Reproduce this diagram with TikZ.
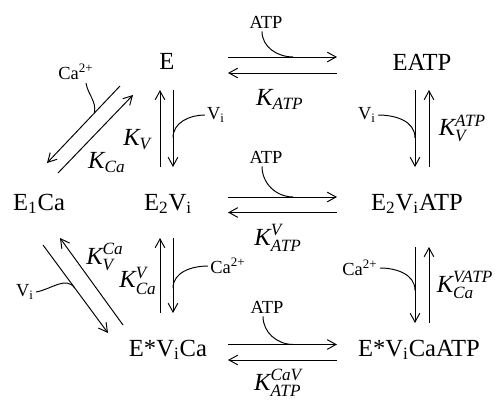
\documentclass[tikz,border=0pt]{standalone}
\usepackage{amsmath}
\usepackage{fontspec}
\setmainfont{Liberation Serif}
\usetikzlibrary{arrows.meta,calc}
\newcommand{\Kc}[1]{$\textit{K}_{\textit{#1}}$}
\newcommand{\Kcc}[2]{$\textit{K}_{\textit{#1}}^{\textit{#2}}$}
\tikzset{
  sp/.style={font=\fontsize{14}{16}\selectfont,inner sep=1pt,anchor=base},
  cof/.style={font=\fontsize{10.5}{12}\selectfont,inner sep=1pt},
  kk/.style={font=\fontsize{14}{16}\selectfont,inner sep=1pt},
  rx/.style={-{Straight Barb[length=5pt,width=5.5pt]}},
}

\begin{document}
\begin{tikzpicture}[x=0.02cm,y=-0.02cm,line width=0.55pt]
\useasboundingbox (0,0) rectangle (495,400);
\node[sp] (e) at (167,69) {E};
\node[sp] (eatp) at (422,70) {EATP};
\node[sp] (eca) at (39,210) {E\textsubscript{1}Ca};
\node[sp] (ev) at (168,210) {E\textsubscript{2}V\textsubscript{i}};
\node[sp] (evatp) at (417,210) {E\textsubscript{2}V\textsubscript{i}ATP};
\node[sp] (evca) at (168,356) {E*V\textsubscript{i}Ca};
\node[sp] (evcaatp) at (419,356) {E*V\textsubscript{i}CaATP};

% ATP binding
\draw[rx] ($(e.base)+(61,-12)$) -- coordinate[pos=0.6] (j1) ($(eatp.base)+(-85,-13)$);
\draw[rx] ($(eatp.base)+(-85,3)$) -- node[kk,yshift=-15pt,xshift=-1.5pt] (k1) {\Kc{ATP}} ($(e.base)+(61,4)$);
\node[cof] (atp1) at (266,22) {ATP};
\draw ($(atp1.south)+(-4,1)$) to[out=-90,in=180] (j1);

\draw[rx] ($(ev.base)+(60,-13)$) -- coordinate[pos=0.6] (j2) ($(evatp.base)+(-80,-13)$);
\draw[rx] ($(evatp.base)+(-80,2.5)$) -- node[kk,yshift=-14.5pt,xshift=-2.5pt] (k2) {\Kcc{ATP}{V}} ($(ev.base)+(60,2.5)$);
\node[cof] (atp2) at (266,157) {ATP};
\draw ($(atp2.south)+(-4,1)$) to[out=-90,in=180] (j2);

\draw[rx] ($(evca.base)+(60,-11.5)$) -- coordinate[pos=0.6] (j3) ($(evcaatp.base)+(-82,-11.5)$);
\draw[rx] ($(evcaatp.base)+(-82,4)$) -- node[kk,yshift=-13pt,xshift=-2.5pt] (k3) {\Kcc{ATP}{CaV}} ($(evca.base)+(60,4)$);
\node[cof] (atp3) at (267,307) {ATP};
\draw ($(atp3.south)+(-4,1)$) to[out=-90,in=180] (j3);

% vanadate and calcium steps
\draw[rx] ($(ev.base)+(-8,-43)$) -- node[kk,xshift=-13pt,yshift=-6.5pt] (kv) {\Kc{V}} ($(e.base)+(-7,21)$);
\draw[rx] ($(e.base)+(6,21)$) -- coordinate[pos=0.62] (j4) ($(ev.base)+(5,-43)$);
\node[cof] (vi1) at (216,115) {V\textsubscript{i}};
\draw (vi1.west) to[out=180,in=90] (j4);

\draw[rx] ($(evca.base)+(-8,-43)$) -- node[kk,xshift=-12.5pt,yshift=-3pt] (kvca) {\Kcc{Ca}{V}} ($(ev.base)+(-8,28)$);
\draw[rx] ($(ev.base)+(5,28)$) -- coordinate[pos=0.67] (j5) ($(evca.base)+(5,-43)$);
\node[cof] (ca2) at (228,266) {Ca\textsuperscript{2+}};
\draw (ca2.west) to[out=180,in=90] (j5);

\draw[rx] ($(eatp.base)+(-7,20)$) -- coordinate[pos=0.62] (j6) ($(evatp.base)+(-2,-43)$);
\draw[rx] ($(evatp.base)+(12,-43)$) -- node[kk,xshift=19pt] (kva) {\Kcc{V}{ATP}} ($(eatp.base)+(7,20)$);
\node[cof] (vi2) at (367,115) {V\textsubscript{i}};
\draw (vi2.east) to[out=0,in=90] (j6);

\draw[rx] ($(evatp.base)+(-2,37)$) -- coordinate[pos=0.57] (j7) ($(evcaatp.base)+(-4,-33)$);
\draw[rx] ($(evcaatp.base)+(10,-33)$) -- node[kk,xshift=20.5pt] (kcava) {\Kcc{Ca}{VATP}} ($(evatp.base)+(12,37)$);
\node[cof] (ca3) at (360,268) {Ca\textsuperscript{2+}};
\draw (ca3.east) to[out=0,in=90] (j7);

% E1Ca branch
\draw[rx] ($(e.base)+(-47,17)$) -- coordinate[pos=0.35] (j8) ($(eca.base)+(8,-47)$);
\draw[rx] ($(eca.base)+(19,-37)$) -- node[kk,xshift=6.5pt,yshift=-16.4pt] (kca) {\Kc{Ca}} ($(e.base)+(-34,26)$);
\node[cof] (ca1) at (76,72) {Ca\textsuperscript{2+}};
\draw ($(ca1.south)+(10,1)$) to[out=-80,in=80] (j8);

\draw[rx] ($(eca.base)+(4,35)$) -- coordinate[pos=0.49] (j9) ($(evca.base)+(-60,-23)$);
\draw[rx] ($(evca.base)+(-45,-31)$) -- node[kk,xshift=7.7pt,yshift=13.9pt] (kvc) {\Kcc{V}{Ca}} ($(eca.base)+(21,28)$);
\node[cof] (vi3) at (25,292) {V\textsubscript{i}};
\draw (vi3.east) to[out=10,in=125] (j9);
\end{tikzpicture}
\end{document}
